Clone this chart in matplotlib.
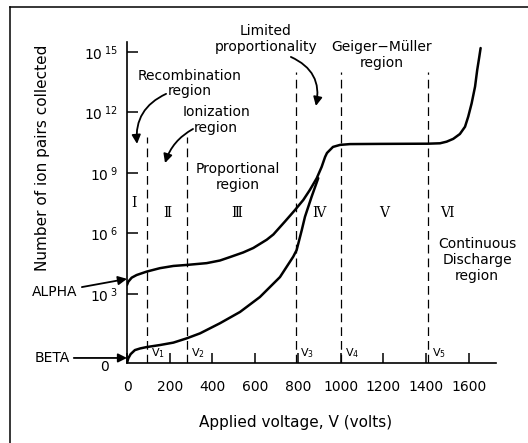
import matplotlib.pyplot as plt
from matplotlib.lines import Line2D

# leitura aproximada da figura (tensão em volts, expoente de 10 no eixo y)
alpha_v = [0, 6, 22, 45, 92, 154, 217, 279, 373, 435, 482, 544, 591, 654, 685, 739, 786,
           825, 856, 888, 911, 927, 936, 950, 964, 997, 1044, 1184, 1409, 1465, 1496, 1527,
           1558, 1582, 1597, 1613, 1629, 1639, 1649, 1655]
alpha_e = [3.45, 3.61, 3.81, 3.94, 4.11, 4.28, 4.39, 4.44, 4.53, 4.66, 4.83, 5.06, 5.28,
           5.69, 5.95, 6.59, 7.16, 7.66, 8.16, 8.74, 9.30, 9.79, 9.99, 10.14, 10.29, 10.39,
           10.43, 10.44, 10.45, 10.47, 10.55, 10.69, 10.93, 11.29, 11.79, 12.45, 13.28, 14.10,
           14.77, 15.19]

beta_v = [0, 6, 17, 37, 61, 92, 154, 217, 279, 342, 435, 529, 622, 716, 778, 794, 818,
          833, 864, 895]
beta_e = [-0.42, -0.19, 0.02, 0.22, 0.30, 0.37, 0.47, 0.59, 0.80, 1.05, 1.55, 2.11, 2.85, 3.84,
          4.85, 5.18, 6.17, 6.83, 7.82, 8.74]

limites_v = [95, 280, 790, 1000, 1410]
limites_topo = [10.8, 10.8, 14.0, 14.0, 14.0]
limites_nomes = ['V$_1$', 'V$_2$', 'V$_3$', 'V$_4$', 'V$_5$']

xticks = [0, 200, 400, 600, 800, 1000, 1200, 1400, 1600]
yticks = [3, 6, 9, 12, 15]
ytick_nomes = [r'10$\,^{%d}$' % e for e in yticks]

romanos = ['Ⅰ', 'Ⅱ', 'Ⅲ', 'Ⅳ', 'Ⅴ', 'Ⅵ']
romanos_pos = [(33, 7.5), (187, 7.0), (515, 7.0), (899, 7.0), (1203, 7.0), (1498, 7.0)]

plt.rcParams['font.family'] = 'DejaVu Sans'
plt.rcParams['font.size'] = 10

W, H = 528, 443
fig = plt.figure(figsize=(W / 100, H / 100), dpi=100)
ax = fig.add_axes([127 / W, 1 - 363 / H, (496 - 127) / W, (363 - 42) / H])

ax.plot(alpha_v, alpha_e, color='black', lw=1.8, solid_capstyle='round', solid_joinstyle='round')
ax.plot(beta_v, beta_e, color='black', lw=1.8, solid_capstyle='round', solid_joinstyle='round')

for v, topo, nome in zip(limites_v, limites_topo, limites_nomes):
    ax.plot([v, v], [-0.42, topo], color='black', lw=0.9, dashes=(7, 4))
    ax.annotate(nome, (v, -0.42), xytext=(3, 2), textcoords='offset points',
                ha='left', va='bottom', fontsize=8)

for r, (x, y) in zip(romanos, romanos_pos):
    ax.text(x, y, r, ha='center', va='center', fontsize=10, family='DejaVu Serif')

ax.set_xlim(0, 1727)
ax.set_ylim(-0.42, 15.49)
ax.set_xticks(xticks)
ax.set_yticks(yticks)
ax.set_yticklabels(ytick_nomes)
ax.tick_params(axis='x', direction='in', length=7, width=1.1, pad=12)
ax.tick_params(axis='y', direction='in', length=8, width=1.1, pad=7)
for lado in ['top', 'right']:
    ax.spines[lado].set_visible(False)
for lado in ['left', 'bottom']:
    ax.spines[lado].set_linewidth(1.2)

ax.text(-103, -0.62, '0', ha='center', va='center', clip_on=False)

# textos das regiões
ax.text(295, 13.44, 'Recombination\nregion', ha='center', va='center', linespacing=1.15)
ax.text(417, 11.63, 'Ionization\nregion', ha='center', va='center', linespacing=1.15)
ax.text(650, 15.64, 'Limited\nproportionality', ha='center', va='center', linespacing=1.15)
ax.text(1193, 14.85, 'Geiger−Müller\nregion', ha='center', va='center', linespacing=1.15)
ax.text(519, 8.8, 'Proportional\nregion', ha='center', va='center', linespacing=1.15)
ax.text(1638, 4.69, 'Continuous\nDischarge\nregion', ha='center', va='center', linespacing=1.15)

seta = dict(arrowstyle='-|>', color='black', lw=1.3, mutation_scale=13, shrinkA=0, shrinkB=0)
ax.annotate('', xy=(47, 10.44), xytext=(183, 12.92),
            arrowprops=dict(seta, connectionstyle='arc3,rad=0.35'))
ax.annotate('', xy=(178, 9.49), xytext=(309, 11.18),
            arrowprops=dict(seta, connectionstyle='arc3,rad=0.2'))
ax.annotate('', xy=(884, 12.32), xytext=(767, 14.75),
            arrowprops=dict(seta, connectionstyle='arc3,rad=-0.4'))

ax.annotate('ALPHA', xy=(0, 3.75), xytext=(-337, 3.1), ha='center', va='center',
            annotation_clip=False,
            arrowprops=dict(seta, shrinkA=1))
ax.annotate('BETA', xy=(0, -0.17), xytext=(-351, -0.17), ha='center', va='center',
            annotation_clip=False,
            arrowprops=dict(seta, shrinkA=1))

fig.text(43 / W, 1 - 158 / H, 'Number of ion pairs collected', rotation=90,
         ha='center', va='center', fontsize=11)
fig.text(296 / W, 1 - 422 / H, 'Applied voltage, V (volts)', ha='center', va='center',
         fontsize=11)

# moldura (só esquerda e topo)
fig.add_artist(Line2D([10 / W, 10 / W], [0, 1 - 7 / H], color='black', lw=1.1))
fig.add_artist(Line2D([10 / W, 1], [1 - 7 / H, 1 - 7 / H], color='black', lw=1.1))

fig.savefig('out.png', dpi=100)
